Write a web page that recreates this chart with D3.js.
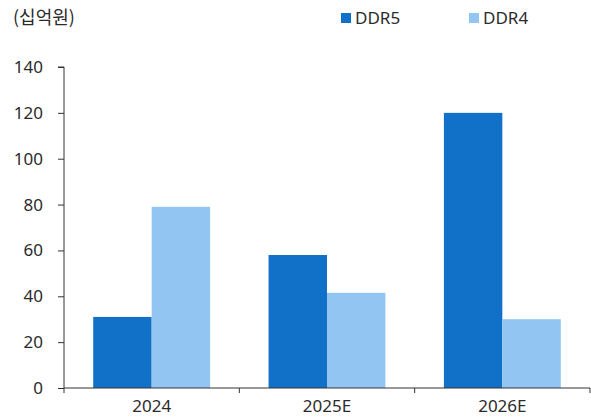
<!DOCTYPE html>
<html><head><meta charset="utf-8">
<script src="https://cdn.jsdelivr.net/npm/d3@7"></script>
<style>
body{margin:0;background:#fff;}
text{font-family:"Noto Sans CJK KR","Noto Sans",sans-serif;fill:#2b2b2b;}
</style></head>
<body><svg id="c" width="591" height="419"></svg>
<script>
const categories = ["2024","2025E","2026E"];
const seriesNames = ["DDR5","DDR4"];
const ddr5 = [31, 58, 120];
const ddr4 = [79, 41.5, 30];
const yTicks = [0,20,40,60,80,100,120,140];
const colors = ["#1170c8","#93c5f3"];

(function(){
const svg = d3.select("#c");
const mL = 64, mR = 590, mT = 67, mB = 388;
const x = d3.scaleBand().domain(categories).range([mL, mR]).paddingInner(0).paddingOuter(0);
const y = d3.scaleLinear().domain([0,140]).range([mB, mT]);
const inner = d3.scaleBand().domain(seriesNames).range([0, x.bandwidth()]).paddingOuter(0.5).paddingInner(0);

const data = categories.map((c,i)=>({cat:c, vals:[ddr5[i], ddr4[i]]}));
const g = svg.append("g");
data.forEach(d=>{
  d.vals.forEach((v,j)=>{
    g.append("rect")
      .attr("x", x(d.cat)+inner(seriesNames[j]))
      .attr("y", y(v))
      .attr("width", inner.bandwidth())
      .attr("height", mB - y(v))
      .attr("fill", colors[j]);
  });
});

const ya = svg.append("g").attr("transform",`translate(${mL},0)`)
  .call(d3.axisLeft(y).tickValues(yTicks).tickSize(6).tickPadding(15));
ya.select(".domain").attr("stroke","#333").attr("d",`M-6,${mT}H0V${mB}`);
ya.selectAll(".tick line").attr("stroke","#333");
ya.selectAll(".tick text").attr("font-size","17px").attr("fill","#2b2b2b").style("font-family","'Noto Sans',sans-serif");

const xa = svg.append("g").attr("transform",`translate(0,${mB})`)
  .call(d3.axisBottom(x).tickSize(0).tickPadding(12));
xa.select(".domain").attr("stroke","#333").attr("d",`M${mL},0H${mR}`);
xa.selectAll(".tick text").attr("font-size","17px").attr("fill","#2b2b2b").style("font-family","'Noto Sans',sans-serif");
const bounds = categories.map(c=>x(c)).concat([mR]);
svg.selectAll(".bt").data(bounds).enter().append("line")
  .attr("x1",d=>d).attr("x2",d=>d).attr("y1",mB).attr("y2",mB+5)
  .attr("stroke","#333");

svg.append("text").attr("x",13).attr("y",24).attr("font-size","18px").text("(십억원)");

const legX = [341, 469];
seriesNames.forEach((s,i)=>{
  svg.append("rect").attr("x",legX[i]).attr("y",13).attr("width",10).attr("height",10).attr("fill",colors[i]);
  svg.append("text").attr("x",legX[i]+14).attr("y",24).attr("font-size","17px").style("font-family","'Noto Sans',sans-serif").text(s);
});
})();
</script></body></html>
